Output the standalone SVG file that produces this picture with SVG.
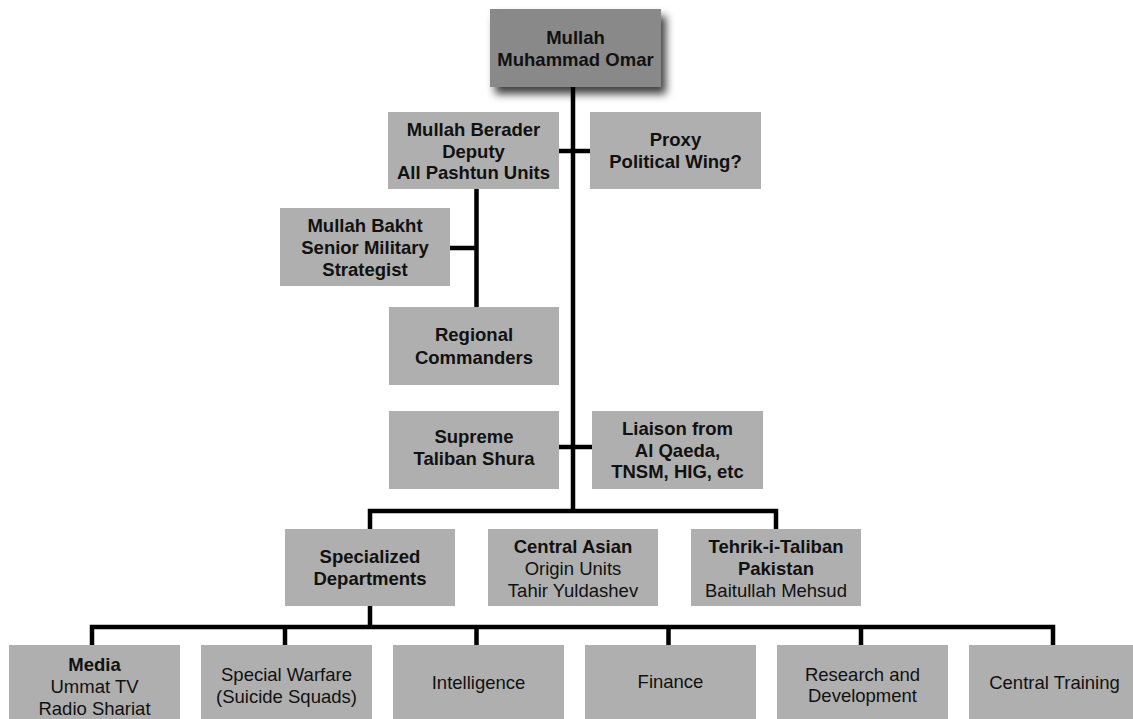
<svg xmlns="http://www.w3.org/2000/svg" width="1133" height="719" viewBox="0 0 1133 719">
<defs>
<filter id="shadow" x="-20%" y="-20%" width="150%" height="160%">
<feDropShadow dx="5" dy="7" stdDeviation="4" flood-color="#000" flood-opacity="0.75"/>
</filter>
<style>
.box{fill:#afafaf;}
.top{fill:#898989;}
.t{font-family:"Liberation Sans",Arial,sans-serif;font-size:18.5px;fill:#111;text-anchor:middle;}
.b{font-weight:bold;}
.c{fill:none;stroke:#000;stroke-width:4.5;stroke-linejoin:miter;}
</style>
</defs>
<rect width="1133" height="719" fill="#fff"/>
<g id="connectors" class="c">
<path d="M573 87 V511"/>
<path d="M559 151 H590"/>
<path d="M476.5 189 V307"/>
<path d="M450 248 H476.5"/>
<path d="M559 447 H592"/>
<path d="M370 529 V511 H776 V529"/>
<path d="M370 606 V627"/>
<path d="M92 645 V627 H1053 V645"/>
<path d="M285 627 V645"/>
<path d="M476.5 627 V645"/>
<path d="M668.5 627 V645"/>
<path d="M861 627 V645"/>
</g>
<g id="omar">
<rect class="top" x="490" y="9" width="171" height="78" filter="url(#shadow)"/>
<text class="t b" x="575.5" y="43.5">Mullah</text>
<text class="t b" x="575.5" y="66">Muhammad Omar</text>
</g>
<g id="berader">
<rect class="box" x="388" y="112" width="171" height="77"/>
<text class="t b" x="473.5" y="135.5">Mullah Berader</text>
<text class="t b" x="473.5" y="157.5">Deputy</text>
<text class="t b" x="473.5" y="179">All Pashtun Units</text>
</g>
<g id="proxy">
<rect class="box" x="590" y="112" width="171" height="77"/>
<text class="t b" x="675.5" y="145.5">Proxy</text>
<text class="t b" x="675.5" y="168">Political Wing?</text>
</g>
<g id="bakht">
<rect class="box" x="280" y="208" width="170" height="78"/>
<text class="t b" x="365" y="231.5">Mullah Bakht</text>
<text class="t b" x="365" y="254">Senior Military</text>
<text class="t b" x="365" y="275.5">Strategist</text>
</g>
<g id="regional">
<rect class="box" x="389" y="307" width="170" height="78"/>
<text class="t b" x="474" y="341">Regional</text>
<text class="t b" x="474" y="363.5">Commanders</text>
</g>
<g id="shura">
<rect class="box" x="389" y="411" width="170" height="78"/>
<text class="t b" x="474" y="442.5">Supreme</text>
<text class="t b" x="474" y="465">Taliban Shura</text>
</g>
<g id="liaison">
<rect class="box" x="592" y="411" width="171" height="78"/>
<text class="t b" x="677.5" y="434.5">Liaison from</text>
<text class="t b" x="677.5" y="456.5">Al Qaeda,</text>
<text class="t b" x="677.5" y="478">TNSM, HIG, etc</text>
</g>
<g id="specialized">
<rect class="box" x="285" y="529" width="170" height="77"/>
<text class="t b" x="370" y="563">Specialized</text>
<text class="t b" x="370" y="585">Departments</text>
</g>
<g id="central-asian">
<rect class="box" x="488" y="529" width="170" height="77"/>
<text class="t b" x="573" y="552.5">Central Asian</text>
<text class="t" x="573" y="575">Origin Units</text>
<text class="t" x="573" y="597">Tahir Yuldashev</text>
</g>
<g id="ttp">
<rect class="box" x="691" y="529" width="170" height="77"/>
<text class="t b" x="776" y="552.5">Tehrik-i-Taliban</text>
<text class="t b" x="776" y="575">Pakistan</text>
<text class="t" x="776" y="597">Baitullah Mehsud</text>
</g>
<g id="media">
<rect class="box" x="9" y="645" width="171" height="80"/>
<text class="t b" x="94.5" y="671">Media</text>
<text class="t" x="94.5" y="693">Ummat TV</text>
<text class="t" x="94.5" y="715">Radio Shariat</text>
</g>
<g id="special-warfare">
<rect class="box" x="201" y="645" width="171" height="80"/>
<text class="t" x="286.5" y="681">Special Warfare</text>
<text class="t" x="286.5" y="702.5">(Suicide Squads)</text>
</g>
<g id="intelligence">
<rect class="box" x="393" y="645" width="171" height="80"/>
<text class="t" x="478.5" y="688.5">Intelligence</text>
</g>
<g id="finance">
<rect class="box" x="585" y="645" width="171" height="80"/>
<text class="t" x="670.5" y="688">Finance</text>
</g>
<g id="research">
<rect class="box" x="777" y="645" width="171" height="80"/>
<text class="t" x="862.5" y="680.5">Research and</text>
<text class="t" x="862.5" y="702">Development</text>
</g>
<g id="training">
<rect class="box" x="969" y="645" width="171" height="80"/>
<text class="t" x="1054.5" y="689">Central Training</text>
</g>
</svg>
